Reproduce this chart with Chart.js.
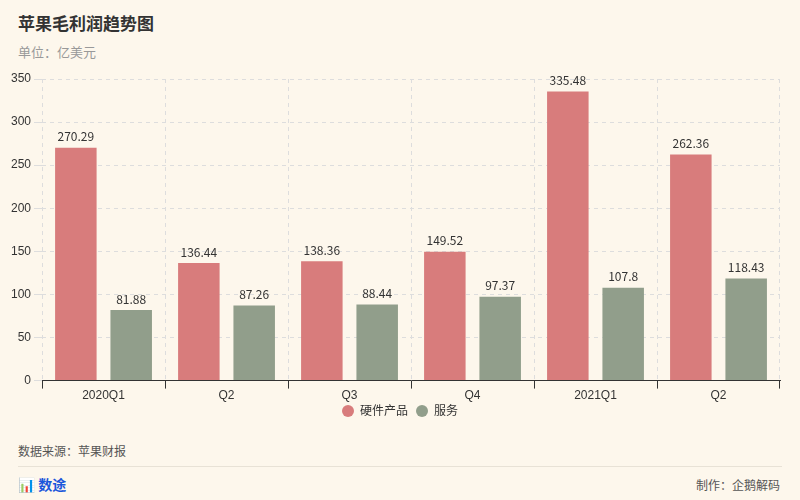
<!DOCTYPE html>
<html><head><meta charset="utf-8">
<script src="https://cdn.jsdelivr.net/npm/chart.js@4"></script>
<style>
body{margin:0;background:#fdf7ec;font-family:"Noto Sans CJK SC",sans-serif;}
#wrap{position:relative;width:800px;height:500px;}
#t{position:absolute;left:18px;top:10px;font-size:17px;font-weight:bold;color:#333;}
#s{position:absolute;left:18px;top:42px;font-size:13px;color:#999;}
#src{position:absolute;left:18px;top:442px;font-size:12px;color:#555;}
#line{position:absolute;left:18px;right:18px;top:466px;border-top:1px solid #e8e2d6;}
#logo{position:absolute;left:18px;top:474px;font-size:14px;font-weight:bold;color:#1a56db;}
#mk{position:absolute;right:20px;top:476px;font-size:12px;color:#555;}
#c{position:absolute;left:0;top:60px;}
#lg{position:absolute;left:0;width:800px;top:401px;text-align:center;font-size:12px;color:#333;}
#lg span{display:inline-block;margin:0 4px;}
#lg i{display:inline-block;width:12px;height:12px;border-radius:50%;vertical-align:-2px;margin-right:6px;}
</style></head><body><div id="wrap">
<div id="t">苹果毛利润趋势图</div><div id="s">单位：亿美元</div>
<canvas id="c" width="800" height="343"></canvas>
<div id="lg"></div>
<div id="src">数据来源：苹果财报</div><div id="line"></div>
<div id="logo">📊 数途</div><div id="mk">制作：企鹅解码</div>
</div>
<script>
const categories=["2020Q1","Q2","Q3","Q4","2021Q1","Q2"];
const hardware=[270.29,136.44,138.36,149.52,335.48,262.36];
const services=[81.88,87.26,88.44,97.37,107.8,118.43];
const labelPlugin={id:'lbl',afterDatasetsDraw(ch){const c=ch.ctx;c.save();c.font='12px "Noto Sans CJK SC"';c.fillStyle='#333';c.textAlign='center';c.textBaseline='bottom';
ch.data.datasets.forEach((d,i)=>ch.getDatasetMeta(i).data.forEach((b,j)=>c.fillText(String(d.data[j]),b.x,b.y-5)));c.restore();}};
const ch=new Chart(document.getElementById('c'),{type:'bar',data:{labels:categories,datasets:[
{label:'硬件产品',data:hardware,backgroundColor:'#d87c7c',barPercentage:0.75,categoryPercentage:0.9},
{label:'服务',data:services,backgroundColor:'#919e8b',barPercentage:0.75,categoryPercentage:0.9}]},
options:{responsive:false,animation:false,layout:{padding:{left:8,right:20,top:19,bottom:0}},
plugins:{legend:{display:false},tooltip:{enabled:false}},
scales:{x:{grid:{color:'#ddd',tickColor:'#333'},border:{color:'#333',dash:[4,4]},ticks:{color:'#333',padding:0,font:{size:12}}},
y:{min:0,max:350,ticks:{stepSize:50,color:'#333',font:{size:12}},grid:{color:'#ddd'},border:{display:false,dash:[4,4]}}}},
plugins:[labelPlugin]});
document.getElementById('lg').innerHTML=ch.data.datasets.map(d=>`<span><i style="background:${d.backgroundColor}"></i>${d.label}</span>`).join('');
</script></body></html>
